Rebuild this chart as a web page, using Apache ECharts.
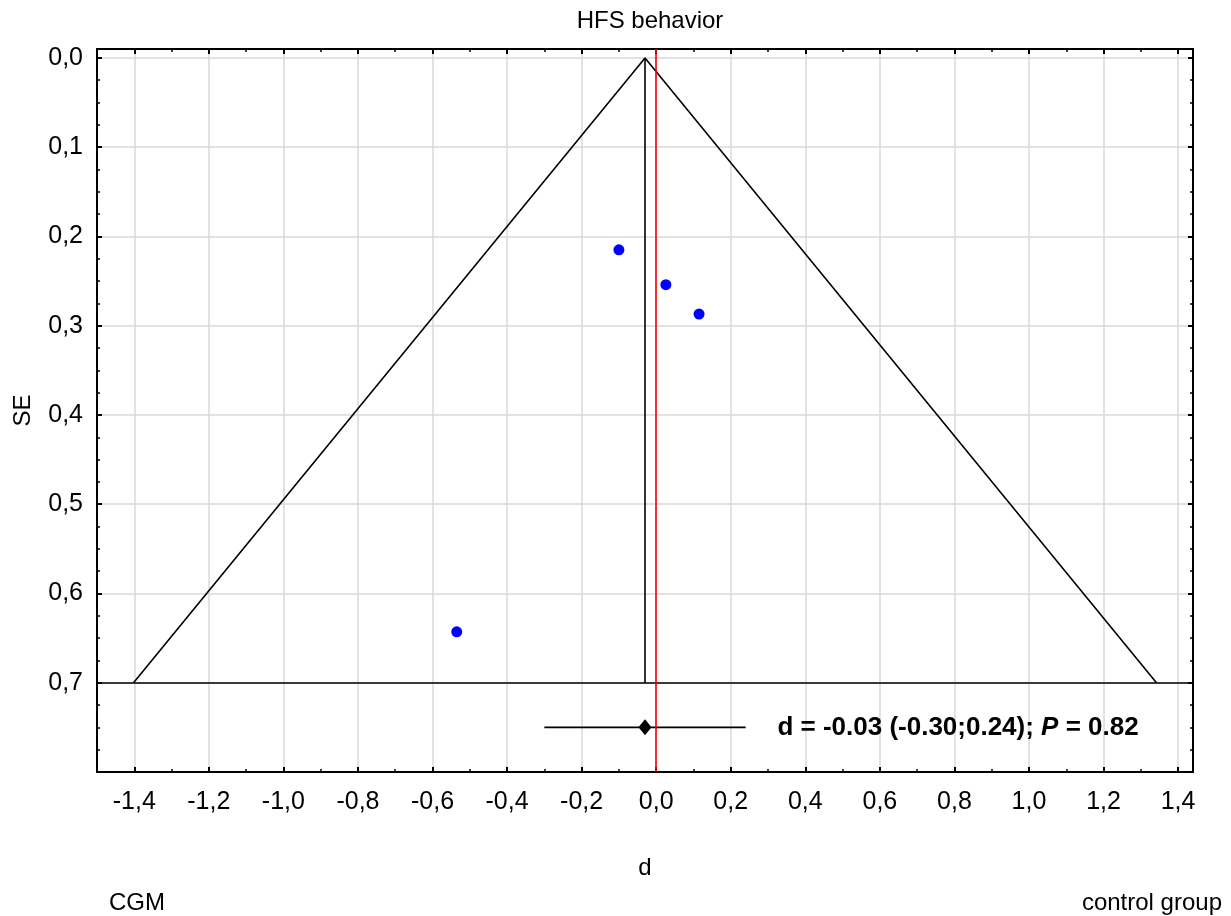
<!DOCTYPE html>
<html>
<head>
<meta charset="utf-8">
<script src="https://cdn.jsdelivr.net/npm/echarts@6/dist/echarts.min.js"></script>
<style>html,body{margin:0;padding:0;background:#fff}#c{width:1231px;height:916px}</style>
</head>
<body>
<div id="c"></div>
<script>
// ---- data ----
const studyD  = [-0.10, 0.026, 0.115, -0.535];
const studySE = [0.215, 0.254, 0.287, 0.643];
const funnelD  = [-1.402, -0.03, 1.342];
const funnelSE = [0.70, 0.00, 0.70];
const pooledD = -0.03, pooledLo = -0.30, pooledHi = 0.24, pooledP = 0.82;
const pooledRowSE = 0.75;
const baseSE = 0.70;
const textAnchorD = 0.325;
const xMajor = [-1.4,-1.2,-1.0,-0.8,-0.6,-0.4,-0.2,0.0,0.2,0.4,0.6,0.8,1.0,1.2,1.4];
const xMinor = [-1.3,-1.1,-0.9,-0.7,-0.5,-0.3,-0.1,0.1,0.3,0.5,0.7,0.9,1.1,1.3];
const yMajor = [0.0,0.1,0.2,0.3,0.4,0.5,0.6,0.7];
const yMinor = [0.025,0.05,0.075,0.125,0.15,0.175,0.225,0.25,0.275,0.325,0.35,0.375,
                0.425,0.45,0.475,0.525,0.55,0.575,0.625,0.65,0.675,0.725,0.75,0.775];
const xMin = -1.5, xMax = 1.44, yMin = -0.01, yMax = 0.8;

// ---- chart ----
const FONT = 'Liberation Sans, Arial, sans-serif';
const fmt = v => v.toFixed(1).replace('.', ',');
const gridColor = '#d9d9d9';

function xAx(pos, major, showLabel, splitLine) {
  return {
    type: 'value', min: xMin, max: xMax, position: pos,
    axisLine: { show: major, onZero: false, lineStyle: { color: '#000', width: 2 } },
    axisTick: { show: true, inside: true, length: major ? 5 : 3,
      customValues: major ? xMajor : xMinor, lineStyle: { color: '#000', width: major ? 2 : 1.5 } },
    axisLabel: { show: showLabel, customValues: xMajor, formatter: fmt, color: '#000',
      fontFamily: FONT, fontSize: 25, margin: 18 },
    splitLine: { show: splitLine, lineStyle: { color: gridColor, width: 1.5 } }
  };
}
function yAx(pos, major, showLabel, splitLine) {
  return {
    type: 'value', min: yMin, max: yMax, inverse: true, position: pos,
    axisLine: { show: major, onZero: false, lineStyle: { color: '#000', width: 2 } },
    axisTick: { show: true, inside: true, length: major ? 5 : 3,
      customValues: major ? yMajor : yMinor, lineStyle: { color: '#000', width: major ? 2 : 1.5 } },
    axisLabel: { show: showLabel, customValues: yMajor, formatter: fmt, color: '#000',
      fontFamily: FONT, fontSize: 25, margin: 14 },
    splitLine: { show: splitLine, lineStyle: { color: gridColor, width: 1.5 } }
  };
}

const xAxes = [xAx('bottom', true, true, true), xAx('bottom', false, false, false),
               xAx('top', true, false, false), xAx('top', false, false, false)];
xAxes[0].name = 'd';
xAxes[0].nameLocation = 'middle';
xAxes[0].nameGap = 84;
xAxes[0].nameTextStyle = { color: '#000', fontFamily: FONT, fontSize: 24 };

const yAxes = [yAx('left', true, true, true), yAx('left', false, false, false),
               yAx('right', true, false, false), yAx('right', false, false, false)];
yAxes[0].name = 'SE';
yAxes[0].nameLocation = 'middle';
yAxes[0].nameGap = 62;
yAxes[0].nameTextStyle = { color: '#000', fontFamily: FONT, fontSize: 24 };

const pts = studyD.map((d, i) => [d, studySE[i]]);
const funnel = funnelD.map((d, i) => [d, funnelSE[i]]);
const lbl = 'd = ' + pooledD.toFixed(2) + ' (' + pooledLo.toFixed(2) + ';' + pooledHi.toFixed(2) + '); ';

const option = {
  backgroundColor: '#fff',
  animation: false,
  title: [
    { text: 'HFS behavior', left: 645, top: 4, textAlign: 'center',
      textStyle: { color: '#000', fontFamily: FONT, fontSize: 24, fontWeight: 'normal' } },
    { text: 'CGM', left: 104, top: 886,
      textStyle: { color: '#000', fontFamily: FONT, fontSize: 24, fontWeight: 'normal' } },
    { text: 'control group', right: 4, top: 886,
      textStyle: { color: '#000', fontFamily: FONT, fontSize: 24, fontWeight: 'normal' } }
  ],
  grid: { left: 97, right: 38, top: 49, bottom: 144, containLabel: false },
  xAxis: xAxes,
  yAxis: yAxes,
  series: [
    { type: 'line', data: funnel, symbol: 'none', silent: true,
      lineStyle: { color: '#000', width: 1.6 }, z: 3,
      markLine: { symbol: 'none', silent: true, label: { show: false }, z: 4,
        data: [ { yAxis: baseSE, lineStyle: { color: '#000', width: 1.6, type: 'solid', opacity: 1 } },
                { xAxis: 0, lineStyle: { color: '#ff0000', width: 1.6, type: 'solid', opacity: 1 } } ] } },
    { type: 'line', data: [[pooledD, funnelSE[1]], [pooledD, baseSE]], symbol: 'none', silent: true,
      lineStyle: { color: '#000', width: 1.6 }, z: 3 },
    { type: 'line', data: [[pooledLo, pooledRowSE], [pooledHi, pooledRowSE]], symbol: 'none', silent: true,
      lineStyle: { color: '#000', width: 1.6 }, z: 3 },
    { type: 'scatter', data: [[pooledD, pooledRowSE]], symbol: 'diamond', symbolSize: [13, 16],
      itemStyle: { color: '#000', opacity: 1 }, z: 5 },
    { type: 'scatter', data: pts, symbol: 'circle', symbolSize: 11,
      itemStyle: { color: '#0000ff', opacity: 1 }, z: 5 },
    { type: 'scatter', data: [[textAnchorD, pooledRowSE]], symbolSize: 0.1,
      itemStyle: { color: 'rgba(0,0,0,0)', opacity: 1 }, z: 6,
      label: { show: true, position: 'right', distance: 0, opacity: 1,
        formatter: '{b|' + lbl + '}{i|P}{b| = ' + pooledP.toFixed(2) + '}',
        rich: {
          b: { color: '#000', fontFamily: FONT, fontSize: 26, fontWeight: 'bold' },
          i: { color: '#000', fontFamily: FONT, fontSize: 26, fontWeight: 'bold', fontStyle: 'italic' }
        } } }
  ]
};
const chart = echarts.init(document.getElementById('c'), null, { renderer: 'canvas' });
chart.setOption(option);
</script>
</body>
</html>
